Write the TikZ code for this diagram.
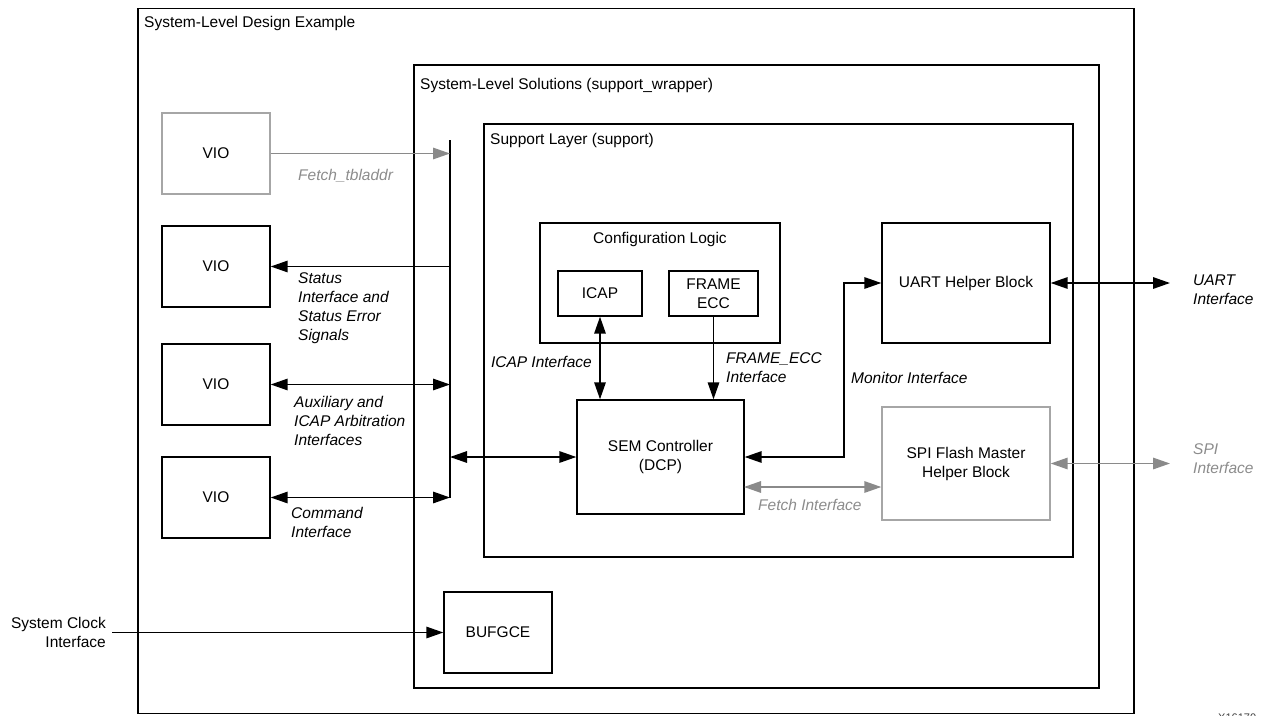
\documentclass[tikz,border=0pt]{standalone}
\usepackage{fontspec}
\setmainfont{Liberation Sans}
\usetikzlibrary{arrows.meta}
\definecolor{grline}{HTML}{8A8A8A}
\definecolor{grbox}{HTML}{A6A6A6}
\definecolor{grtext}{HTML}{8C8C8C}
\tikzset{
  every node/.style={font=\fontsize{15.5}{19}\selectfont},
  blk/.style={draw=black, line width=1.4pt, inner sep=0pt, align=center},
  gblk/.style={draw=grbox, line width=1.4pt, inner sep=0pt, align=center},
  frm/.style={draw=black, line width=1.4pt, inner sep=0pt},
  ttl/.style={inner sep=0pt, anchor=north west},
  lbl/.style={font=\fontsize{15.5}{19}\selectfont\itshape, inner sep=0pt, align=left, anchor=north west},
  conn/.style={line width=1.5pt, -{Triangle[length=17pt,width=11.5pt]}},
  dconn/.style={line width=1.5pt, {Triangle[length=17pt,width=11.5pt]}-{Triangle[length=17pt,width=11.5pt]}},
}
\begin{document}
\begin{tikzpicture}[x=1pt,y=-1pt]
\useasboundingbox (0,0) rectangle (1269,715);

\node[frm, minimum width=996pt, minimum height=705pt] (outer) at (636,361) {};
\node[ttl] (outerT) at (144,16) {System-Level Design Example};
\node[frm, minimum width=685pt, minimum height=623pt] (wrap) at (756.5,376.5) {};
\node[ttl] (wrapT) at (420,78) {System-Level Solutions (support\_wrapper)};
\node[frm, minimum width=589pt, minimum height=433pt] (supp) at (778.5,340.5) {};
\node[ttl] (suppT) at (490,133) {Support Layer (support)};

\node[gblk, minimum width=108pt, minimum height=81pt] (vio1) at (216,153.5) {VIO};
\node[blk, minimum width=108pt, minimum height=81pt] (vio2) at (216,266.5) {VIO};
\node[blk, minimum width=108pt, minimum height=81pt] (vio3) at (216,384.5) {VIO};
\node[blk, minimum width=108pt, minimum height=81pt] (vio4) at (216,497.5) {VIO};

\coordinate (bustop) at (450,140);
\coordinate (busbot) at (450,498);
\draw[line width=1.5pt] (bustop) -- (busbot);

\node[blk, minimum width=240pt, minimum height=120pt] (cfg) at (660,283) {};
\node[inner sep=0pt, anchor=north] (cfgT) at (660,232) {Configuration Logic};
\node[blk, minimum width=84pt, minimum height=45pt] (icap) at (600,293.5) {ICAP};
\node[blk, minimum width=89pt, minimum height=45pt] (fecc) at (713.5,293.5) {FRAME\\ECC};

\node[blk, minimum width=167pt, minimum height=114pt] (sem) at (660.5,457) {SEM Controller\\(DCP)};

\node[blk, minimum width=168pt, minimum height=120pt] (uart) at (966,283) {UART Helper Block};
\node[gblk, minimum width=168pt, minimum height=113pt] (spi) at (966,463.5) {SPI Flash Master\\Helper Block};

\node[blk, minimum width=108pt, minimum height=81pt] (bufg) at (498,632.5) {BUFGCE};

\draw[conn, draw=grline] (vio1.east) -- (vio1.east -| bustop);
\draw[conn] (vio2.east -| bustop) -- (vio2.east);
\draw[dconn] (vio3.east) -- (vio3.east -| bustop);
\draw[dconn] (vio4.east) -- (vio4.east -| bustop);
\draw[dconn] (bustop |- sem.west) -- (sem.west);
\draw[dconn] (icap.south) -- (icap.south |- sem.north);
\draw[conn] (fecc.south) -- (fecc.south |- sem.north);
\coordinate (monx) at (844,283);
\draw[dconn] (sem.east) -| (monx) -- (uart.west);
\coordinate (fetchA) at (744,487);
\draw[dconn, draw=grline] (fetchA) -- (fetchA -| spi.west);
\coordinate (uartend) at (1170,283);
\draw[dconn] (uart.east) -- (uartend);
\coordinate (spiend) at (1170,463.5);
\draw[dconn, draw=grline] (spi.east) -- (spiend);
\coordinate (clkstart) at (112,632.5);
\draw[conn] (clkstart) -- (bufg.west);

\node[lbl, text=grtext] (lfetchtb) at (298,168.8) {Fetch\_tbladdr};
\node[lbl] (lstatus) at (298,272.8) {Status\\Interface and\\Status Error\\Signals};
\node[lbl] (laux) at (294,395.8) {Auxiliary and\\ICAP Arbitration\\Interfaces};
\node[lbl] (lcmd) at (291,506.8) {Command\\Interface};
\node[lbl, anchor=north east, align=right] (licap) at (592,355.8) {ICAP Interface};
\node[lbl] (lfecc) at (726,352.8) {FRAME\_ECC\\Interface};
\node[lbl] (lmon) at (851,371.8) {Monitor Interface};
\node[lbl, text=grtext] (lfetch) at (758,498.8) {Fetch Interface};
\node[lbl] (luart) at (1193,274.8) {UART\\Interface};
\node[lbl, text=grtext] (lspi) at (1193,443.8) {SPI\\Interface};
\node[inner sep=0pt, anchor=north east, align=right] (lclk) at (106,616.8) {System Clock\\Interface};

\node[inner sep=0pt, anchor=base west, font=\fontsize{11}{13}\selectfont, text=black!75] (figid) at (1218,721) {X16170};
\end{tikzpicture}
\end{document}
